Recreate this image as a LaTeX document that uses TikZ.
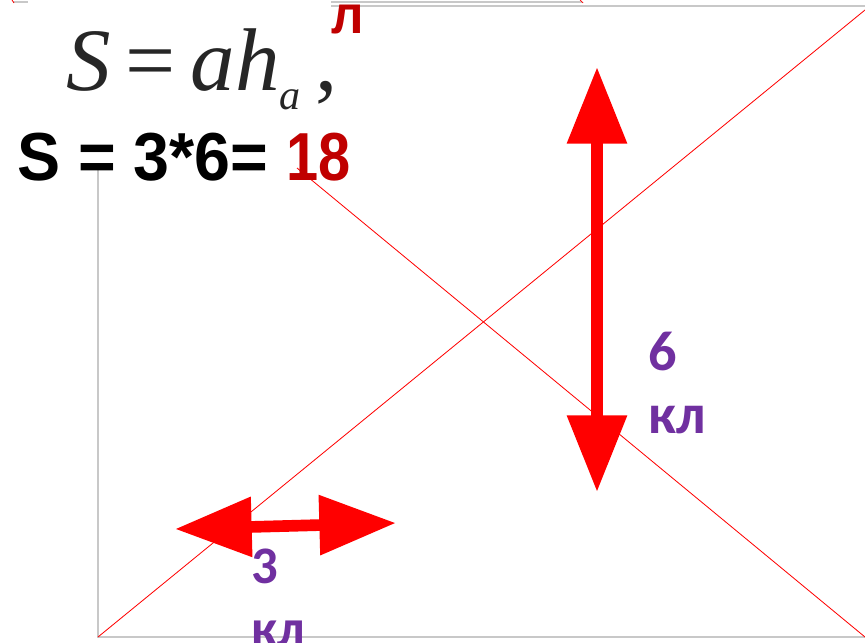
\documentclass[tikz,border=0pt]{standalone}
\usepackage{fontspec}
\usetikzlibrary{arrows.meta}
\newfontfamily\formulafont{Liberation Serif}
\newfontfamily\calcfont[FakeStretch=0.95]{Liberation Sans}
\newfontfamily\resultfont[FakeStretch=0.85]{Liberation Sans}
\newfontfamily\labelfont{Carlito}
\definecolor{resultred}{HTML}{C00000}
\definecolor{klpurple}{HTML}{7030A0}
\definecolor{framegray}{HTML}{C8C8C8}

\begin{document}
\begin{tikzpicture}[
    x=0.03cm, y=-0.03cm,
    frame/.style={draw=framegray, line width=1pt},
    diag/.style={draw=red, line width=0.7pt},
    dblarrow/.style={draw=red, line width=0.35cm, {Triangle[length=2.3cm, width=1.72cm]}-{Triangle[length=2.3cm, width=1.72cm]}},
    calc/.style={font=\calcfont\bfseries\fontsize{58}{60}\selectfont, inner sep=0pt, anchor=base west},
    lbl/.style={font=\labelfont\bfseries\fontsize{48}{50}\selectfont, text=klpurple, inner sep=0pt, anchor=base west}
]
    \useasboundingbox (0,0) rectangle (865,643);

    % top edge
    \draw[frame] (13,2) -- (28,2);
    \draw[frame] (331,2) -- (582,2);
    \draw[frame] (331,6) -- (865,6);
    \draw[red, line width=0.6pt] (12,0) -- (14,3);
    \draw[red, line width=0.6pt] (580,0) -- (583,3);

    % rectangle and its diagonals
    \coordinate (tl) at (98,168);
    \coordinate (bl) at (98,637);
    \coordinate (br) at (865,637);
    \coordinate (tr) at (865,10);
    \coordinate (tm) at (297,168);
    \draw[frame] (tl) -- (bl) -- (br);
    \draw[diag] (bl) -- (tr);
    \draw[diag] (tm) -- (br);

    % formula and calculation
    \node[inner sep=0pt, anchor=base west, text=black!85,
          font=\formulafont\fontsize{76}{80}\selectfont] (formula) at (66,90)
        {\textit{S}\,=\,\textit{ah}\raisebox{-0.22em}{\fontsize{36}{40}\selectfont\textit{a}}\,,};
    \node[calc, text=resultred, font=\calcfont\bfseries\fontsize{46}{50}\selectfont] (letter) at (331,33) {л};
    \node[calc] (calcline) at (17,180) {S = 3*6=};
    \node[calc, text=resultred, font=\resultfont\bfseries\fontsize{58}{60}\selectfont] (result) at (286,180) {18};

    % height and base
    \coordinate (htop) at (597,67);
    \coordinate (hbot) at (597,492);
    \coordinate (bleft) at (175,529);
    \coordinate (bright) at (396,523);
    \draw[dblarrow] (htop) -- (hbot);
    \draw[dblarrow] (bleft) -- (bright);

    % labels
    \node[lbl] (six) at (648,370) {6};
    \node[lbl] (sixkl) at (648,433) {кл};
    \node[lbl, font=\labelfont\bfseries\fontsize{45}{50}\selectfont] (three) at (251,583) {3};
    \node[lbl, font=\labelfont\bfseries\fontsize{45}{50}\selectfont] (threekl) at (251,646) {кл};
\end{tikzpicture}
\end{document}
